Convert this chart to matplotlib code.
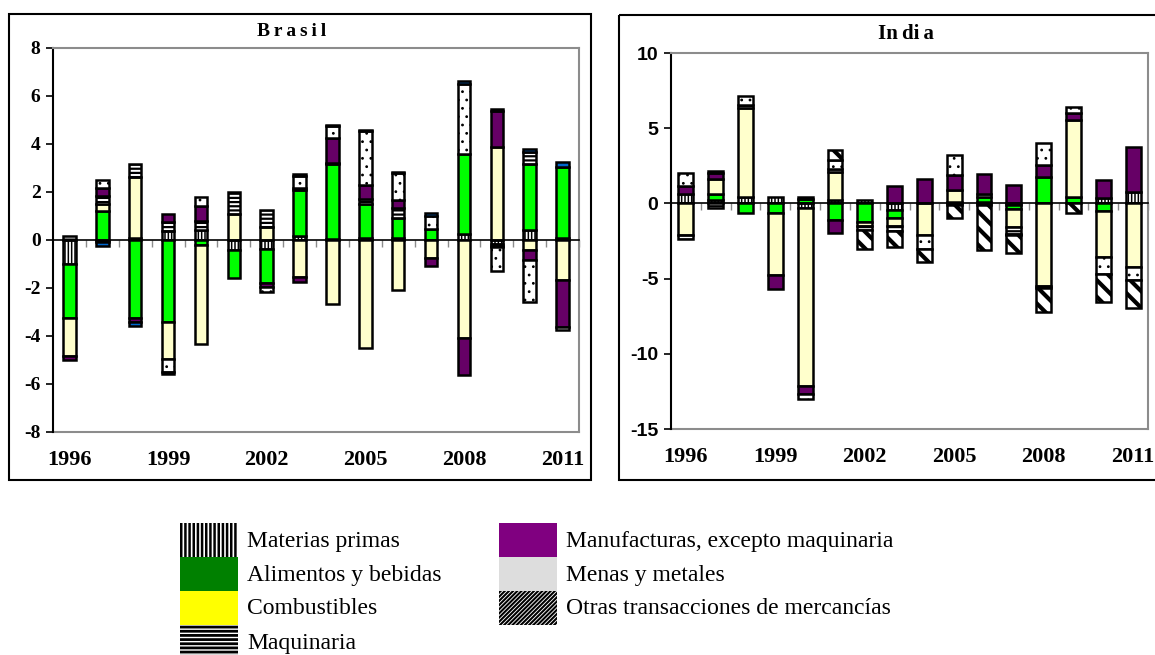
import numpy as np
import matplotlib

matplotlib.use("Agg")
import matplotlib.pyplot as plt
from matplotlib.patches import Rectangle

years = list(range(1996, 2012))
year_labels = ["1996", "1999", "2002", "2005", "2008", "2011"]

# values per category, one per year 1996..2011 (signed)
brasil_materias = [-1.0, -0.1, 0.08, 0.38, 0.4, -0.42, -0.37, 0.15, 0.05, 0.08, 0.1, 0.0, 0.25, -0.15, 0.42, 0.1]
brasil_alimentos = [-2.25, 1.22, -3.25, -3.43, -0.2, -1.17, -1.43, 1.92, 3.1, 1.42, 0.83, 0.46, 3.33, -0.1, 2.75, 2.96]
brasil_combustibles = [-1.57, 0.28, 2.55, -1.53, -4.15, 1.08, 0.55, -1.55, -2.67, -4.5, -2.1, -0.75, -4.08, 3.86, -0.42, -1.67]
brasil_maquinaria = [0.15, 0.35, 0.53, 0.35, 0.4, 0.9, 0.7, 0.1, 0.05, 0.2, 0.4, 0.0, 0.0, -0.05, 0.48, 0.0]
brasil_manufacturas = [-0.18, 0.3, -0.18, 0.37, 0.62, 0.0, -0.17, -0.2, 1.04, 0.58, 0.35, -0.33, -1.53, 1.5, -0.42, -1.97]
brasil_menas = [0.0, 0.33, 0.0, -0.55, 0.38, 0.0, -0.2, 0.48, 0.5, 2.26, 1.1, 0.55, 2.92, -1.0, -1.74, -0.11]
brasil_otras = [0.0, 0.0, 0.0, -0.08, 0.0, 0.0, 0.0, 0.0, 0.05, 0.05, 0.05, 0.0, 0.0, 0.08, 0.0, 0.0]
brasil_otros = [0.0, -0.15, -0.15, 0.0, 0.0, 0.0, 0.0, 0.1, 0.0, 0.0, 0.0, 0.1, 0.14, 0.0, 0.13, 0.17]

india_materias = [0.6, 0.2, 0.4, 0.4, -0.3, 0.2, 0.2, -0.45, 0.05, 0.1, 0.1, -0.1, 0.0, 0.0, 0.33, 0.78]
india_alimentos = [0.0, 0.45, -0.67, -0.62, 0.3, -1.1, -1.22, -0.5, 0.0, 0.0, 0.35, -0.3, 1.78, 0.4, -0.5, 0.0]
india_combustibles = [-2.1, 1.0, 5.93, -4.16, -11.83, 1.9, -0.28, -0.57, -2.1, 0.82, 0.0, -1.16, -5.47, 5.15, -3.08, -4.24]
india_maquinaria = [-0.3, -0.3, 0.22, 0.0, 0.1, 0.22, -0.28, -0.33, 0.0, -0.1, 0.15, -0.45, -0.15, 0.0, 0.0, 0.0]
india_manufacturas = [0.55, 0.4, 0.0, -0.88, -0.57, -0.9, 0.0, 1.15, 1.55, 1.0, 1.35, 1.2, 0.78, 0.45, 1.22, 3.0]
india_menas = [0.9, 0.0, 0.6, 0.0, -0.28, 0.55, 0.0, 0.0, -0.9, 1.3, -0.1, -0.1, 1.45, 0.38, -1.11, -0.85]
india_otras = [0.0, 0.1, 0.0, 0.0, 0.0, 0.67, -1.22, -1.07, -0.9, -0.9, -2.99, -1.2, -1.62, -0.67, -1.84, -1.89]
india_otros = [0.0] * 16

# face colour, hatch, hatch linewidth
BAR_STYLE = {
    "materias": ("white", "|||||", 1.1),
    "alimentos": ("#00FF00", None, 1.0),
    "combustibles": ("#FFFFCC", None, 1.0),
    "maquinaria": ("white", "----", 1.6),
    "manufacturas": ("#660066", None, 1.0),
    "menas": ("white", "..", 0.8),
    "otras": ("white", "\\\\", 3.0),
    "otros": ("#0066CC", None, 1.0),
}

SERIF = "Liberation Serif"
SANS = "Liberation Sans"
GRAY = "#8c8c8c"


def draw_stack(ax, series, width):
    x = np.arange(len(years))
    pos = np.zeros(len(years))
    neg = np.zeros(len(years))
    for name, vals in series:
        v = np.asarray(vals, dtype=float)
        face, hatch, hlw = BAR_STYLE[name]
        for part, base in ((np.where(v > 0, v, 0.0), pos), (np.where(v < 0, v, 0.0), neg)):
            m = part != 0
            if m.any():
                with plt.rc_context({"hatch.linewidth": hlw}):
                    bars = ax.bar(x[m], part[m], width, bottom=base[m], facecolor=face,
                                  edgecolor="black", linewidth=1.8, hatch=hatch, zorder=3)
                for b in bars:
                    if hasattr(b, "set_hatch_linewidth"):
                        b.set_hatch_linewidth(hlw)
            base += part


def style_axes(ax, ylim, yticks, yfont):
    ax.set_xlim(-0.5, len(years) - 0.5)
    ax.set_ylim(*ylim)
    ax.set_yticks(yticks)
    ax.set_yticklabels([str(t) for t in yticks], fontfamily=yfont, fontweight="bold", fontsize=14)
    ax.tick_params(axis="y", direction="out", length=5, width=1.2, color="black", pad=4)
    ax.spines["left"].set_color("black")
    ax.spines["left"].set_linewidth(1.5)
    for side in ("top", "right"):
        ax.spines[side].set_color(GRAY)
        ax.spines[side].set_linewidth(1.5)
    ax.spines["bottom"].set_position(("data", 0))
    ax.spines["bottom"].set_color("black")
    ax.spines["bottom"].set_linewidth(1.2)
    ax.spines["bottom"].set_zorder(4)
    ax.set_xticks(np.arange(len(years)) + 0.5)
    ax.set_xticklabels([])
    ax.tick_params(axis="x", direction="out", length=5, width=1.0, color=GRAY)
    sec = ax.secondary_xaxis("bottom")
    sec.set_xticks(np.arange(0, len(years), 3))
    sec.set_xticklabels(year_labels, fontfamily=SERIF, fontweight="bold", fontsize=16)
    sec.tick_params(length=0, pad=13)
    sec.spines["bottom"].set_color(GRAY)
    sec.spines["bottom"].set_linewidth(1.5)


fig = plt.figure(figsize=(11.55, 6.55), dpi=100)

bg = fig.add_axes([0, 0, 1, 1], zorder=-1)
bg.set_xlim(0, 1155)
bg.set_ylim(655, 0)
bg.axis("off")
bg.add_patch(Rectangle((9, 14), 582, 466, fill=False, edgecolor="black", linewidth=1.5))
bg.add_patch(Rectangle((619, 15), 560, 465, fill=False, edgecolor="black", linewidth=1.5))
bg.text(292, 31, "B\u2009r\u2009a\u2009s\u2009i\u2009l", ha="center", va="center",
        fontfamily=SERIF, fontweight="bold", fontsize=14)
bg.text(906, 34, "In\u2009di\u2009a", ha="center", va="center", fontfamily=SERIF,
        fontweight="bold", fontsize=15)

ax1 = fig.add_axes([53 / 1155, (655 - 432) / 655, 526 / 1155, 384 / 655])
draw_stack(ax1, [("materias", brasil_materias), ("alimentos", brasil_alimentos),
                 ("combustibles", brasil_combustibles), ("maquinaria", brasil_maquinaria),
                 ("manufacturas", brasil_manufacturas), ("menas", brasil_menas),
                 ("otras", brasil_otras), ("otros", brasil_otros)], 0.38)
style_axes(ax1, (-8, 8), list(range(-8, 9, 2)), SERIF)

ax2 = fig.add_axes([671 / 1155, (655 - 429) / 655, 477 / 1155, 376 / 655])
draw_stack(ax2, [("materias", india_materias), ("alimentos", india_alimentos),
                 ("combustibles", india_combustibles), ("maquinaria", india_maquinaria),
                 ("manufacturas", india_manufacturas), ("menas", india_menas),
                 ("otras", india_otras), ("otros", india_otros)], 0.5)
style_axes(ax2, (-15, 10), list(range(-15, 11, 5)), SANS)

# legend block
legend_left = [
    ("Materias primas", "white", "||||", 1.8),
    ("Alimentos y bebidas", "#008000", None, 1.0),
    ("Combustibles", "#FFFF00", None, 1.0),
    ("Maquinaria", "white", "----", 2.0),
]
legend_right = [
    ("Manufacturas, excepto maquinaria", "#800080", None, 1.0),
    ("Menas y metales", "#DDDDDD", None, 1.0),
    ("Otras transacciones de mercancías", "white", "////////", 1.5),
]
for col_x, entries in ((180, legend_left), (499, legend_right)):
    for i, (label, face, hatch, hlw) in enumerate(entries):
        y = 523 + i * 34
        with plt.rc_context({"hatch.linewidth": hlw}):
            p = Rectangle((col_x, y), 58, 34, facecolor=face, hatch=hatch,
                          edgecolor="black" if hatch else face, linewidth=0)
        if hasattr(p, "set_hatch_linewidth"):
            p.set_hatch_linewidth(hlw)
        bg.add_patch(p)
        bg.text(col_x + 67, y + 18, label, ha="left", va="center", fontfamily=SERIF, fontsize=17)

fig.savefig("out.png", dpi=100)
